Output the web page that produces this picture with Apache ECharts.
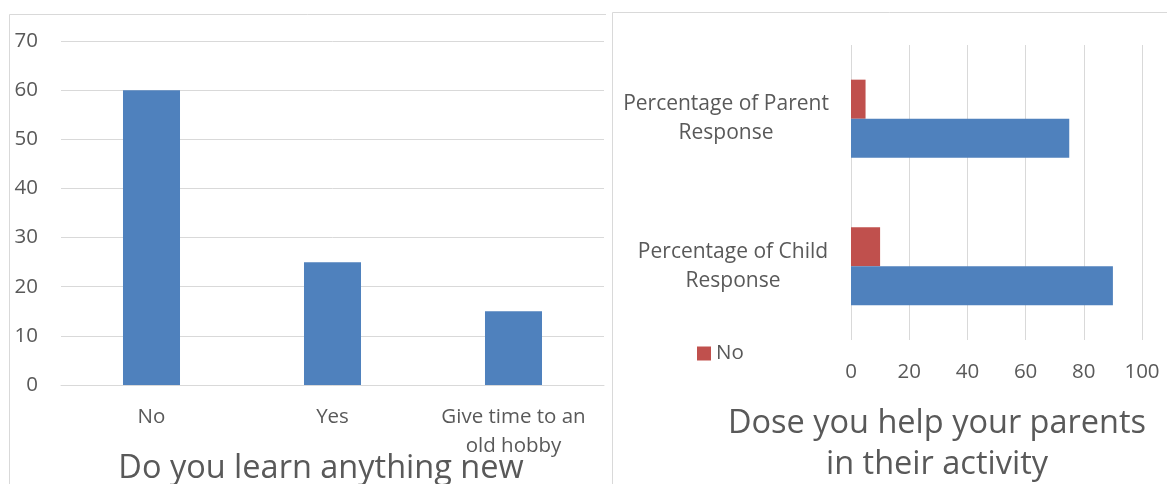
<!DOCTYPE html>
<html>
<head>
<meta charset="utf-8">
<script src="https://cdn.jsdelivr.net/npm/echarts@6/dist/echarts.min.js"></script>
<style>
  html, body { margin: 0; padding: 0; background: #ffffff; }
  #chart { width: 1167px; height: 484px; }
</style>
</head>
<body>
<div id="chart"></div>
<script>
// Left panel: "Do you learn anything new"
const learnCategories = ['No', 'Yes', 'Give time to an\nold hobby'];
const learnValues = [60, 25, 15];
const learnTicks = [0, 10, 20, 30, 40, 50, 60, 70];

// Right panel: "Dose you help your parents in their activity"
const helpCategories = ['Percentage of Child\nResponse', 'Percentage of Parent\nResponse'];
const helpYes = [90, 75];
const helpNo = [10, 5];
const helpTicks = [0, 20, 40, 60, 80, 100];

const TEXT = '#595959';
const GRID = '#d9d9d9';
const FONT = 'Open Sans';
const BLUE = '#4f81bd';
const RED = '#c0504d';

const chart = echarts.init(document.getElementById('chart'), null, { renderer: 'canvas' });

// Category labels are centred line by line but their blocks end flush on the right,
// so the shorter block gets shifted a little to the right.
const catLabelStyle = { fontFamily: FONT, fontSize: 21, color: TEXT, lineHeight: 29 };

chart.setOption({
  backgroundColor: '#ffffff',
  animation: false,
  textStyle: { fontFamily: FONT, color: TEXT },
  title: [
    {
      text: 'Do you learn anything new',
      left: 321, top: 448, textAlign: 'center', padding: 0,
      textStyle: { fontFamily: FONT, fontSize: 32.5, fontWeight: 'normal', color: TEXT, lineHeight: 41 }
    },
    {
      text: 'Dose you help your parents\nin their activity',
      left: 937, top: 403, textAlign: 'center', padding: 0,
      textStyle: { fontFamily: FONT, fontSize: 32.5, fontWeight: 'normal', color: TEXT, lineHeight: 41 }
    }
  ],
  legend: {
    data: ['No'],
    left: 697, top: 343, padding: 0,
    itemWidth: 14, itemHeight: 14, icon: 'rect',
    textStyle: { fontFamily: FONT, fontSize: 20.5, color: TEXT }
  },
  graphic: [
    // frame of the left chart
    { type: 'line', shape: { x1: 9.5, y1: 14.5, x2: 606, y2: 14.5 }, style: { stroke: GRID, lineWidth: 1 } },
    { type: 'line', shape: { x1: 9.5, y1: 14.5, x2: 9.5, y2: 484 }, style: { stroke: GRID, lineWidth: 1 } },
    // frame of the right chart
    { type: 'line', shape: { x1: 612.5, y1: 12.5, x2: 1167, y2: 12.5 }, style: { stroke: GRID, lineWidth: 1 } },
    { type: 'line', shape: { x1: 612.5, y1: 12.5, x2: 612.5, y2: 484 }, style: { stroke: GRID, lineWidth: 1 } }
  ],
  grid: [
    { left: 61, top: 41, width: 543, height: 344, containLabel: false },
    { left: 851, top: 45, width: 291, height: 295, containLabel: false }
  ],
  xAxis: [
    {
      gridIndex: 0, type: 'category', data: learnCategories,
      axisLine: { show: true, lineStyle: { color: GRID, width: 1 } },
      axisTick: { show: false },
      axisLabel: { fontFamily: FONT, fontSize: 20.5, color: TEXT, margin: 18, lineHeight: 29, interval: 0 }
    },
    {
      gridIndex: 1, type: 'value',
      min: helpTicks[0], max: helpTicks[helpTicks.length - 1], interval: helpTicks[1] - helpTicks[0],
      axisLine: { show: false }, axisTick: { show: false },
      splitLine: { show: true, lineStyle: { color: GRID, width: 1 } },
      axisLabel: { fontFamily: FONT, fontSize: 20.5, color: TEXT, margin: 22 }
    }
  ],
  yAxis: [
    {
      gridIndex: 0, type: 'value',
      min: learnTicks[0], max: learnTicks[learnTicks.length - 1], interval: learnTicks[1] - learnTicks[0],
      axisLine: { show: false }, axisTick: { show: false },
      splitLine: { show: true, lineStyle: { color: GRID, width: 1 } },
      axisLabel: { fontFamily: FONT, fontSize: 20.5, color: TEXT, margin: 23 }
    },
    {
      gridIndex: 1, type: 'category', data: helpCategories,
      axisLine: { show: false }, axisTick: { show: false },
      axisLabel: {
        fontFamily: FONT, fontSize: 21, color: TEXT, lineHeight: 29,
        align: 'center', margin: 122, interval: 0,
        formatter: function (value, index) {
          const tag = index === 0 ? 'child' : 'parent';
          return value.split('\n').map(function (line) { return '{' + tag + '|' + line + '}'; }).join('\n');
        },
        rich: {
          child: Object.assign({ padding: [0, 0, 0, 8] }, catLabelStyle),
          parent: Object.assign({ padding: [0, 6, 0, 0] }, catLabelStyle)
        }
      }
    }
  ],
  series: [
    {
      name: 'Learn', type: 'bar', xAxisIndex: 0, yAxisIndex: 0,
      data: learnValues, barWidth: '31.5%',
      itemStyle: { color: BLUE }
    },
    {
      name: 'No', type: 'bar', xAxisIndex: 1, yAxisIndex: 1,
      data: helpNo, barGap: '0%', barCategoryGap: '47%',
      itemStyle: { color: RED }
    },
    {
      name: 'Yes', type: 'bar', xAxisIndex: 1, yAxisIndex: 1,
      data: helpYes, barGap: '0%', barCategoryGap: '47%',
      itemStyle: { color: BLUE }
    }
  ]
});
</script>
</body>
</html>
